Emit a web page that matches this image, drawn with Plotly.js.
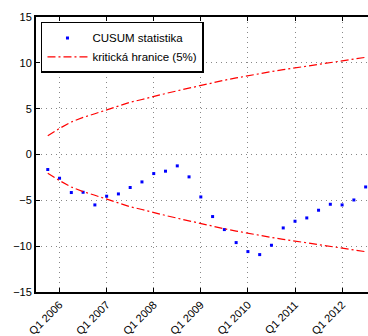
<!DOCTYPE html>
<html><head><meta charset="utf-8">
<script src="https://cdn.plot.ly/plotly-3.0.1.min.js"></script>
<style>html,body{margin:0;padding:0;background:#fff}#c{width:368px;height:336px}</style>
</head><body><div id="c"></div>
<script>
// quarter index: 0 = Q1 2006
const quarters = [-1,0,1,2,3,4,5,6,7,8,9,10,11,12,13,14,15,16,17,18,19,20,21,22,23,24,25,26];
const cusum = [-1.64,-2.59,-4.15,-4.12,-5.5,-4.55,-4.3,-3.6,-2.99,-2.08,-1.82,-1.24,-2.44,-4.63,-6.77,-8.19,-9.61,-10.59,-10.92,-9.9,-8.01,-7.28,-6.92,-6.08,-5.43,-5.5,-4.96,-3.54];
const critUpper = [2.05,2.85,3.55,4.05,4.45,4.85,5.3,5.7,6.0,6.35,6.65,6.95,7.25,7.55,7.85,8.1,8.35,8.6,8.8,9.05,9.25,9.45,9.65,9.85,10.0,10.2,10.4,10.6];
const critLower = critUpper.map(v => -v);
const tickPos = [0,4,8,12,16,20,24];
const tickLabels = ["Q1 2006","Q1 2007","Q1 2008","Q1 2009","Q1 2010","Q1 2011","Q1 2012"];

const dashStyle = "8px,3px,2px,3px";
const traces = [
  {x: quarters, y: cusum, mode: 'markers', type: 'scatter', name: 'CUSUM statistika',
   marker: {color: '#0000ff', size: 3, symbol: 'square'}},
  {x: quarters, y: critUpper, mode: 'lines', type: 'scatter', name: 'kritická hranice (5%)',
   line: {color: '#ff0000', width: 1.2, dash: dashStyle}},
  {x: quarters, y: critLower, mode: 'lines', type: 'scatter', showlegend: false,
   line: {color: '#ff0000', width: 1.2, dash: dashStyle}}
];
const layout = {
  width: 368, height: 336,
  margin: {l: 36, r: 0, t: 17, b: 44},
  paper_bgcolor: '#fff', plot_bgcolor: '#fff',
  font: {family: 'Liberation Sans, Arial, sans-serif', size: 11, color: '#000'},
  showlegend: true,
  legend: {x: 0.015, y: 0.982, xanchor: 'left', yanchor: 'top',
    bgcolor: '#fff', bordercolor: '#000', borderwidth: 1.5,
    font: {size: 11.5}, tracegroupgap: 0, itemwidth: 40},
  xaxis: {range: [-2, 26.2], tickvals: tickPos, ticktext: tickLabels, tickangle: -45,
    showgrid: true, gridcolor: '#888', griddash: '1px,4px', gridwidth: 1,
    showline: true, linecolor: '#000', linewidth: 2, mirror: 'ticks',
    ticks: 'inside', ticklen: 4, tickcolor: '#000', zeroline: false,
    tickfont: {size: 11}},
  yaxis: {range: [-15, 15], tickvals: [-15,-10,-5,0,5,10,15],
    showgrid: true, gridcolor: '#888', griddash: '1px,4px', gridwidth: 1,
    showline: true, linecolor: '#000', linewidth: 2, mirror: false,
    ticks: 'inside', ticklen: 4, tickcolor: '#000', zeroline: false,
    tickfont: {size: 11}}
};
Plotly.newPlot('c', traces, layout, {displayModeBar: false, staticPlot: true});
</script></body></html>
